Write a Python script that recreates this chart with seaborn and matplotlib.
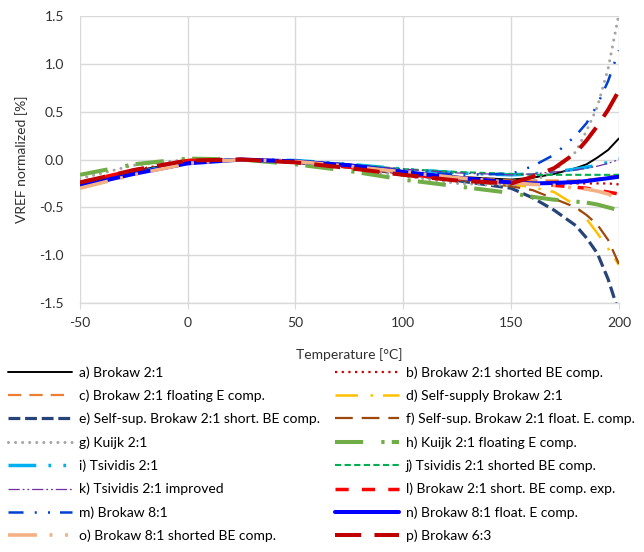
import numpy as np
import pandas as pd
import matplotlib
matplotlib.use('Agg')
import matplotlib.pyplot as plt
import seaborn as sns

# temperature grid [°C]
temps = [-50, -25, 0, 25, 50, 75, 100, 125, 150, 160, 170, 180, 185, 190, 195, 200]

# normalized VREF [%] per circuit
a_vals = [-0.25, -0.12, -0.02, 0.0, -0.02, -0.07, -0.13, -0.18, -0.21, -0.19, -0.15, -0.09, -0.05, 0.02, 0.10, 0.22]
b_vals = [-0.24, -0.11, -0.01, 0.0, -0.02, -0.08, -0.15, -0.21, -0.24, -0.25, -0.25, -0.25, -0.25, -0.25, -0.25, -0.26]
c_vals = [-0.29, -0.15, -0.04, 0.0, -0.02, -0.07, -0.13, -0.18, -0.22, -0.22, -0.22, -0.22, -0.21, -0.20, -0.18, -0.16]
d_vals = [-0.27, -0.14, -0.03, 0.0, -0.03, -0.08, -0.14, -0.20, -0.26, -0.29, -0.34, -0.48, -0.62, -0.77, -0.93, -1.10]
e_vals = [-0.27, -0.14, -0.03, 0.0, -0.03, -0.08, -0.15, -0.22, -0.30, -0.40, -0.53, -0.69, -0.82, -0.98, -1.25, -1.60]
f_vals = [-0.27, -0.14, -0.03, 0.0, -0.03, -0.08, -0.15, -0.21, -0.28, -0.32, -0.41, -0.50, -0.58, -0.68, -0.84, -1.09]
g_vals = [-0.20, -0.06, 0.0, 0.0, -0.02, -0.09, -0.17, -0.25, -0.27, -0.23, -0.12, 0.08, 0.30, 0.55, 0.95, 1.52]
h_vals = [-0.16, -0.05, 0.01, 0.0, -0.05, -0.12, -0.21, -0.28, -0.35, -0.39, -0.42, -0.44, -0.45, -0.47, -0.50, -0.53]
i_vals = [-0.27, -0.14, -0.03, 0.0, -0.01, -0.05, -0.10, -0.14, -0.16, -0.15, -0.13, -0.10, -0.08, -0.06, -0.03, 0.01]
j_vals = [-0.27, -0.14, -0.03, 0.0, -0.01, -0.05, -0.10, -0.13, -0.15, -0.16, -0.16, -0.16, -0.16, -0.16, -0.16, -0.16]
k_vals = [-0.27, -0.14, -0.03, 0.0, -0.01, -0.05, -0.10, -0.14, -0.16, -0.15, -0.13, -0.11, -0.09, -0.07, -0.04, 0.0]
l_vals = [-0.24, -0.11, -0.01, 0.0, -0.02, -0.08, -0.15, -0.21, -0.24, -0.25, -0.27, -0.29, -0.30, -0.32, -0.34, -0.36]
m_vals = [-0.28, -0.15, -0.04, 0.0, -0.02, -0.06, -0.12, -0.16, -0.15, -0.07, 0.05, 0.25, 0.38, 0.57, 0.82, 1.14]
n_vals = [-0.28, -0.15, -0.04, 0.0, -0.02, -0.06, -0.13, -0.19, -0.24, -0.25, -0.245, -0.235, -0.225, -0.21, -0.195, -0.18]
o_vals = [-0.30, -0.16, -0.04, 0.0, -0.02, -0.07, -0.13, -0.19, -0.24, -0.26, -0.27, -0.30, -0.31, -0.33, -0.36, -0.42]
p_vals = [-0.24, -0.11, -0.01, 0.0, -0.03, -0.09, -0.16, -0.22, -0.25, -0.18, -0.09, 0.07, 0.20, 0.35, 0.52, 0.72]

labels = ['a) Brokaw 2:1', 'b) Brokaw 2:1 shorted BE comp.',
          'c) Brokaw 2:1 floating E comp.', 'd) Self-supply Brokaw 2:1',
          'e) Self-sup. Brokaw 2:1 short. BE comp.', 'f) Self-sup. Brokaw 2:1 float. E. comp.',
          'g) Kuijk 2:1', 'h) Kuijk 2:1 floating E comp.',
          'i) Tsividis 2:1', 'j) Tsividis 2:1 shorted BE comp.',
          'k) Tsividis 2:1 improved', 'l) Brokaw 2:1 short. BE comp. exp.',
          'm) Brokaw 8:1', 'n) Brokaw 8:1 float. E comp.',
          'o) Brokaw 8:1 shorted BE comp.', 'p) Brokaw 6:3']
values = [a_vals, b_vals, c_vals, d_vals, e_vals, f_vals, g_vals, h_vals,
          i_vals, j_vals, k_vals, l_vals, m_vals, n_vals, o_vals, p_vals]

# (color, linewidth, linestyle, capstyle)
styles = [
    ('#000000', 1.4, '-', 'butt'),
    ('#D00000', 1.6, (0, (1, 2)), 'butt'),
    ('#ED7D31', 1.6, (0, (6, 3.6)), 'butt'),
    ('#FFC000', 1.8, (0, (9, 5, 1, 4)), 'butt'),
    ('#264478', 2.3, (0, (3.7, 1.5)), 'butt'),
    ('#9E480E', 1.6, (0, (8, 4)), 'butt'),
    ('#A5A5A5', 2.2, (0, (0.01, 2.3)), 'round'),
    ('#70AD47', 2.9, (0, (7, 4.5, 0.8, 1.8)), 'butt'),
    ('#00B0F0', 2.5, (0, (8, 3.5, 0.8, 3.5, 0.8, 3.5)), 'butt'),
    ('#00B050', 1.5, (0, (3, 1.6)), 'butt'),
    ('#7030A0', 0.9, (0, (9, 2.3, 1.5, 2.3, 1.5, 2.3)), 'butt'),
    ('#FF0000', 2.5, (0, (3.8, 3.8)), 'butt'),
    ('#0040D0', 1.8, (0, (6, 4.5, 0.8, 4.5, 0.8, 4)), 'butt'),
    ('#0000FF', 2.9, '-', 'butt'),
    ('#F4B183', 2.6, (0, (8, 3.5, 0.8, 3.5, 0.8, 3.5)), 'butt'),
    ('#C00000', 2.9, (0, (6.5, 3.3)), 'butt'),
]

sns.set_style("whitegrid")
plt.rcParams['font.family'] = ['Lato', 'DejaVu Sans']
plt.rcParams['axes.unicode_minus'] = False

fig = plt.figure(figsize=(6.44, 5.52), dpi=100)
ax = fig.add_axes([0.124, 0.451, 0.837, 0.520])

for lab, vals, (col, lw, ls, cap) in zip(labels, values, styles):
    df = pd.DataFrame({'T': temps, 'V': vals})
    sns.lineplot(data=df, x='T', y='V', ax=ax, color=col, linewidth=lw,
                 linestyle=ls, dash_capstyle=cap, label=lab,
                 sort=False, estimator=None)

ax.set_xlim(-50, 200)
ax.set_ylim(-1.5, 1.5)
ax.set_xticks(np.arange(-50, 201, 50))
ax.set_yticks(np.arange(-1.5, 1.51, 0.5))
ax.set_yticklabels([f'{v:.1f}' for v in np.arange(-1.5, 1.51, 0.5)])
ax.grid(True, color='#D9D9D9', linewidth=1.0)
for s in ['top', 'right', 'left']:
    ax.spines[s].set_visible(False)
ax.spines['bottom'].set_color('#D9D9D9')
ax.spines['bottom'].set_linewidth(1.0)
ax.tick_params(axis='x', bottom=True, length=4, color='#D9D9D9', labelsize=10,
               labelcolor='#303030', pad=6)
ax.tick_params(axis='y', left=False, labelsize=10, labelcolor='#303030', pad=8)
ax.set_xlabel('Temperature [°C]', fontsize=10, color='#303030', labelpad=14)
ax.set_ylabel('VREF normalized [%]', fontsize=10, color='#303030', labelpad=8)

# legend below the plot, two columns filled row by row
handles, labs = ax.get_legend_handles_labels()
ax.get_legend().remove()
order = [0, 2, 4, 6, 8, 10, 12, 14, 1, 3, 5, 7, 9, 11, 13, 15]
fig.legend([handles[i] for i in order], [labs[i] for i in order],
           loc='upper left', bbox_to_anchor=(8 / 644, 1 - 366 / 552),
           ncol=2, frameon=False, fontsize=10, handlelength=4.6,
           handletextpad=0.5, labelspacing=0.78, columnspacing=1.08,
           borderpad=0, borderaxespad=0, labelcolor='#000000')

fig.savefig('out.png', dpi=100)
